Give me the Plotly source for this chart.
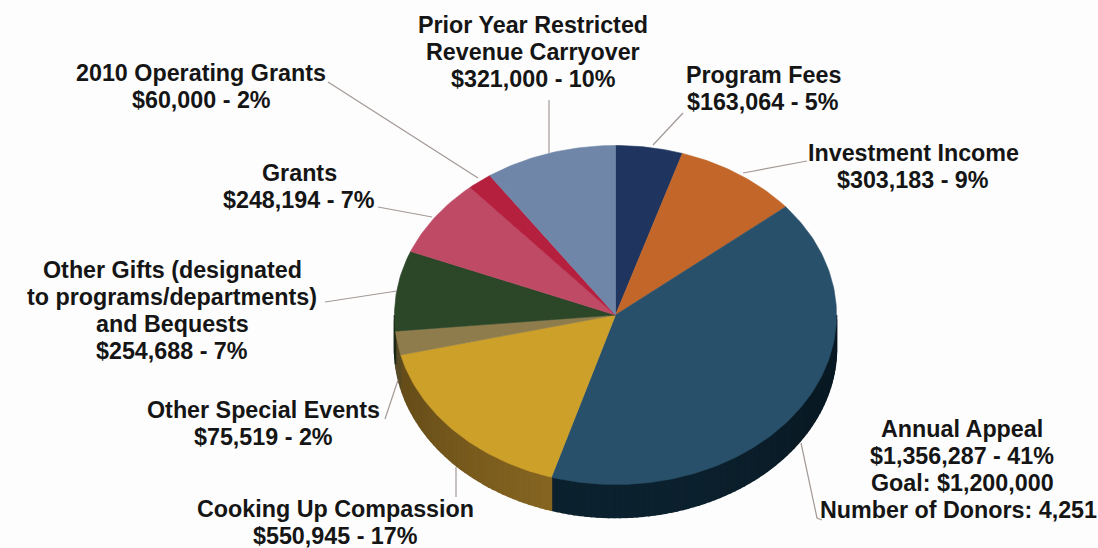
import math
import plotly.graph_objects as go

# --- chart data, clockwise from 12 o'clock ---
names = ["Program Fees", "Investment Income", "Annual Appeal", "Cooking Up Compassion",
         "Other Special Events", "Other Gifts", "Grants", "2010 Operating Grants",
         "Prior Year Restricted Revenue Carryover"]
values = [163064, 303183, 1356287, 550945, 75519, 254688, 248194, 60000, 321000]
top_colors = ["#1f3560", "#c3662a", "#28506a", "#cda02a", "#8f7c4c", "#2c4628", "#bf4a66", "#b5203f", "#6f86a8"]
wall_colors = ["#14233f", "#7a3f18", "#0b1e2a", "#7a5c1e", "#6a5a2c", "#1f321c", "#7a2f40", "#701428", "#465870"]

labels = [
    ["Program Fees", "$163,064 - 5%"],
    ["Investment Income", "$303,183 - 9%"],
    ["Annual Appeal", "$1,356,287 - 41%", "Goal: $1,200,000", "Number of Donors: 4,251"],
    ["Cooking Up Compassion", "$550,945 - 17%"],
    ["Other Special Events", "$75,519 - 2%"],
    ["Other Gifts (designated", "to programs/departments)", "and Bequests", "$254,688 - 7%"],
    ["Grants", "$248,194 - 7%"],
    ["2010 Operating Grants", "$60,000 - 2%"],
    ["Prior Year Restricted", "Revenue Carryover", "$321,000 - 10%"],
]

# --- layout of the drawing (pixel-scaled axes) ---
CX, CY, RX, RY, DEPTH = 615.5, 315, 221, 169.5, 33
LINE_PITCH = 27
label_pos = [(763, 88), (913, 166), (962, 469.5), (335, 522), (263, 423.5), (172, 310.5), (299, 186.5), (201, 86.5), (533, 51.5)]
line_shift = {(2, 3): -3.5}
leaders = [
    [(683, 113), (653, 145)],
    [(807, 161), (743, 173)],
    [(801, 443), (817, 518), (822, 520)],
    [(456, 467), (456, 497)],
    [(385, 419), (398, 380)],
    [(325, 302), (397, 291)],
    [(378, 207), (432, 217)],
    [(328, 82), (478, 178)],
    [(549, 100), (549, 153)],
]


def px(t):
    return CX + RX * math.sin(t), CY - RY * math.cos(t)


def shade(color, f):
    r, g, b = (int(color[i:i + 2], 16) for i in (1, 3, 5))
    return "rgb(%d,%d,%d)" % (min(255, r * f), min(255, g * f), min(255, b * f))


fig = go.Figure()
total = sum(values)
edges = [0.0]
for v in values:
    edges.append(edges[-1] + v / total * 2 * math.pi)


def poly(xs, ys, color, width=0.6):
    fig.add_trace(go.Scatter(x=xs, y=ys, mode="lines", fill="toself", fillcolor=color,
                             line=dict(color=color, width=width), hoverinfo="skip", showlegend=False))


# front wall, broken into short bands so it can darken towards both ends
BAND = math.radians(1.5)
for a, b, col in zip(edges[:-1], edges[1:], wall_colors):
    lo, hi = max(a, math.pi / 2), min(b, 3 * math.pi / 2)
    if hi <= lo:
        continue
    n = max(1, int((hi - lo) / BAND))
    for k in range(n):
        t0 = lo + (hi - lo) * k / n
        t1 = lo + (hi - lo) * (k + 1) / n
        ts = [t0, (t0 + t1) / 2, t1]
        pts = [px(t) for t in ts]
        xs = [p[0] for p in pts] + [p[0] for p in reversed(pts)] + [pts[0][0]]
        ys = [p[1] for p in pts] + [p[1] + DEPTH for p in reversed(pts)] + [pts[0][1]]
        mid = (t0 + t1) / 2
        f = 0.82 + 0.3 * math.sin(mid - math.pi / 2) ** 2
        poly(xs, ys, shade(col, f), width=1.6)

# top face
for a, b, col in zip(edges[:-1], edges[1:], top_colors):
    n = max(4, int((b - a) / math.radians(1)))
    pts = [px(a + (b - a) * k / n) for k in range(n + 1)]
    xs = [CX] + [p[0] for p in pts] + [CX]
    ys = [CY] + [p[1] for p in pts] + [CY]
    poly(xs, ys, col)

# leader lines
for seg in leaders:
    fig.add_trace(go.Scatter(x=[p[0] for p in seg], y=[p[1] for p in seg], mode="lines",
                             line=dict(color="#a39a96", width=1.2), hoverinfo="skip", showlegend=False))

for j, (lines, (x, y)) in enumerate(zip(labels, label_pos)):
    for i, line in enumerate(lines):
        fig.add_annotation(x=x + line_shift.get((j, i), 0), y=y + (i - (len(lines) - 1) / 2) * LINE_PITCH,
                           text="<b>%s</b>" % line, showarrow=False, xanchor="center",
                           yanchor="middle", align="center",
                           font=dict(family="Liberation Sans", size=23.3, color="#151515"))

fig.update_xaxes(range=[0, 1098], visible=False)
fig.update_yaxes(range=[548, 0], visible=False)
fig.update_layout(width=1098, height=548, margin=dict(l=0, r=0, t=0, b=0),
                  paper_bgcolor="#fdfdfd", plot_bgcolor="#fdfdfd")
fig.write_html("out.html", config={"displayModeBar": False},
               post_script="document.body.style.margin='0';document.body.style.overflow='hidden';")
